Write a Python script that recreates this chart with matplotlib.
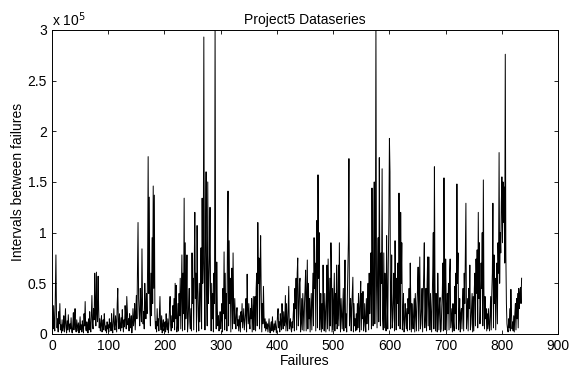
import numpy as np
import matplotlib.pyplot as plt

plt.rcParams['font.family'] = ['Liberation Sans', 'DejaVu Sans']

# intervals between failures, in thousands, 50 failures per block
seg_000 = [35, 12, 5, 28, 8, 3, 40, 78, 20, 6, 15, 2, 22, 10, 30, 4, 9, 1, 14, 3,
           7, 18, 2, 11, 25, 6, 1, 13, 4, 19, 8, 2, 10, 5, 16, 3, 1, 9, 21, 4,
           12, 25, 6, 2, 14, 8, 3, 11, 1, 7]
seg_050 = [17, 4, 9, 2, 13, 6, 1, 20, 8, 32, 5, 3, 12, 7, 1, 15, 4, 22, 9, 2,
           18, 38, 11, 5, 25, 14, 60, 30, 8, 61, 20, 12, 57, 25, 6, 15, 3, 9, 18, 2,
           7, 14, 4, 20, 10, 3, 8, 1, 12, 5]
seg_100 = [9, 2, 15, 6, 11, 3, 20, 8, 1, 13, 25, 7, 4, 18, 10, 2, 30, 45, 12, 5,
           20, 9, 3, 16, 6, 24, 11, 2, 14, 7, 28, 18, 5, 37, 22, 9, 15, 3, 20, 12,
           6, 18, 1, 10, 25, 8, 14, 30, 4, 20]
seg_150 = [38, 15, 60, 110, 35, 20, 8, 45, 25, 12, 84, 30, 10, 22, 5, 50, 28, 15, 40, 20,
           65, 175, 40, 135, 25, 8, 60, 18, 95, 30, 146, 45, 137, 20, 5, 12, 2, 25, 8, 15,
           3, 20, 37, 10, 4, 18, 1, 9, 14, 3]
seg_200 = [6, 12, 2, 20, 8, 4, 15, 1, 10, 25, 37, 9, 3, 18, 6, 28, 12, 35, 4, 50,
           15, 48, 2, 8, 30, 3, 40, 18, 55, 5, 45, 78, 3, 60, 20, 134, 4, 90, 15, 35,
           78, 2, 10, 30, 45, 12, 5, 25, 3, 80]
seg_250 = [30, 55, 4, 70, 120, 35, 60, 2, 107, 45, 18, 3, 50, 12, 40, 85, 5, 134, 50, 70,
           293, 45, 4, 95, 160, 40, 8, 150, 30, 48, 75, 125, 35, 3, 50, 15, 40, 2, 60, 30,
           305, 45, 5, 71, 25, 8, 18, 3, 10, 22]
seg_300 = [5, 15, 30, 2, 45, 20, 81, 4, 60, 15, 40, 3, 90, 141, 8, 92, 30, 55, 2, 45,
           65, 5, 80, 25, 10, 35, 15, 5, 20, 26, 8, 14, 3, 18, 10, 2, 22, 12, 30, 6,
           15, 25, 4, 12, 20, 35, 2, 59, 25, 10]
seg_350 = [30, 12, 5, 25, 15, 35, 2, 20, 37, 4, 28, 37, 3, 45, 60, 8, 110, 50, 75, 5,
           60, 97, 40, 2, 30, 10, 47, 18, 6, 15, 3, 12, 5, 10, 2, 8, 15, 4, 1, 9,
           12, 3, 17, 6, 2, 10, 4, 13, 7, 1]
seg_400 = [8, 18, 25, 6, 12, 2, 20, 10, 4, 30, 15, 5, 22, 8, 12, 38, 3, 30, 10, 3,
           25, 47, 5, 8, 15, 5, 2, 12, 6, 20, 30, 3, 45, 25, 55, 4, 60, 75, 8, 20,
           50, 55, 2, 10, 35, 4, 40, 20, 3, 30]
seg_450 = [45, 63, 3, 40, 73, 5, 50, 15, 35, 2, 20, 40, 4, 30, 60, 8, 95, 45, 70, 3,
           80, 112, 6, 157, 55, 100, 4, 20, 40, 2, 30, 5, 68, 25, 3, 40, 20, 2, 30, 68,
           5, 74, 40, 3, 55, 8, 90, 60, 2, 45]
seg_500 = [4, 35, 60, 3, 40, 10, 68, 5, 15, 68, 8, 90, 30, 2, 35, 20, 5, 25, 45, 3,
           30, 73, 6, 20, 2, 30, 60, 90, 173, 8, 20, 35, 3, 25, 40, 56, 2, 30, 8, 15,
           3, 20, 4, 30, 6, 40, 25, 2, 35, 52]
seg_550 = [4, 40, 15, 42, 3, 8, 30, 12, 2, 35, 10, 25, 50, 4, 60, 20, 45, 80, 5, 144,
           60, 8, 90, 150, 10, 70, 305, 50, 6, 60, 95, 12, 174, 60, 8, 80, 50, 163, 15, 4,
           80, 6, 60, 25, 3, 97, 40, 5, 70, 110]
seg_600 = [193, 160, 5, 30, 78, 6, 15, 35, 60, 3, 92, 40, 4, 55, 30, 70, 8, 139, 60, 5,
           120, 50, 90, 4, 15, 40, 2, 8, 30, 20, 5, 25, 3, 35, 20, 45, 4, 70, 30, 2,
           30, 15, 5, 20, 35, 2, 40, 20, 3, 30]
seg_650 = [45, 66, 3, 40, 76, 5, 10, 25, 45, 2, 35, 60, 90, 6, 20, 45, 3, 50, 76, 8,
           76, 30, 4, 40, 20, 2, 30, 60, 100, 5, 165, 50, 3, 40, 37, 2, 60, 25, 4, 30,
           36, 2, 5, 25, 40, 70, 3, 154, 50, 4]
seg_700 = [74, 30, 3, 40, 20, 50, 4, 60, 74, 6, 15, 25, 2, 30, 12, 3, 47, 20, 60, 5,
           148, 50, 80, 4, 15, 35, 2, 20, 25, 5, 30, 45, 3, 60, 30, 80, 129, 5, 20, 35,
           3, 45, 25, 68, 4, 10, 25, 40, 2, 37]
seg_750 = [3, 45, 60, 8, 74, 40, 83, 6, 120, 35, 90, 10, 30, 70, 45, 100, 8, 152, 45, 5,
           37, 15, 25, 3, 20, 5, 25, 10, 3, 20, 37, 4, 40, 60, 129, 6, 78, 30, 55, 4,
           45, 70, 10, 90, 60, 179, 50, 100, 80, 130]
seg_800 = [155, 90, 150, 110, 145, 70, 276, 80, 30, 10, 5, 2, 15, 6, 25, 3, 44, 20, 5, 12,
           3, 18, 2, 20, 30, 4, 35, 15, 40, 6, 45, 25, 38, 46, 30, 55]

blocks = [seg_000, seg_050, seg_100, seg_150, seg_200, seg_250, seg_300, seg_350, seg_400,
          seg_450, seg_500, seg_550, seg_600, seg_650, seg_700, seg_750, seg_800]
intervals = np.concatenate([np.array(b, dtype=float) for b in blocks]) * 1000
failures = np.arange(len(intervals))

fig = plt.figure(figsize=(5.7, 3.69), dpi=100)
ax = fig.add_axes([0.0912, 0.0949, 0.888, 0.824])
fs = 10

ax.plot(failures, intervals, color='black', linewidth=0.7)
ax.set_xlim(0, 900)
ax.set_ylim(0, 3e5)
ax.set_xticks(np.arange(0, 901, 100))
yt = np.arange(0, 3.01e5, 0.5e5)
ax.set_yticks(yt)
ax.set_yticklabels(['0', '0.5', '1', '1.5', '2', '2.5', '3'])
ax.tick_params(direction='in', top=True, right=True, labelsize=fs, length=3, width=0.6)
for s in ax.spines.values():
    s.set_linewidth(0.7)

ax.text(0.0, 1.012, r'x 10$^{5}$', transform=ax.transAxes, fontsize=fs)
ax.set_title('Project5 Dataseries', fontsize=fs, pad=4)
ax.set_xlabel('Failures', fontsize=fs, labelpad=1)
ax.set_ylabel('Intervals between failures', fontsize=fs, labelpad=2)

fig.savefig('out.png', dpi=100)
